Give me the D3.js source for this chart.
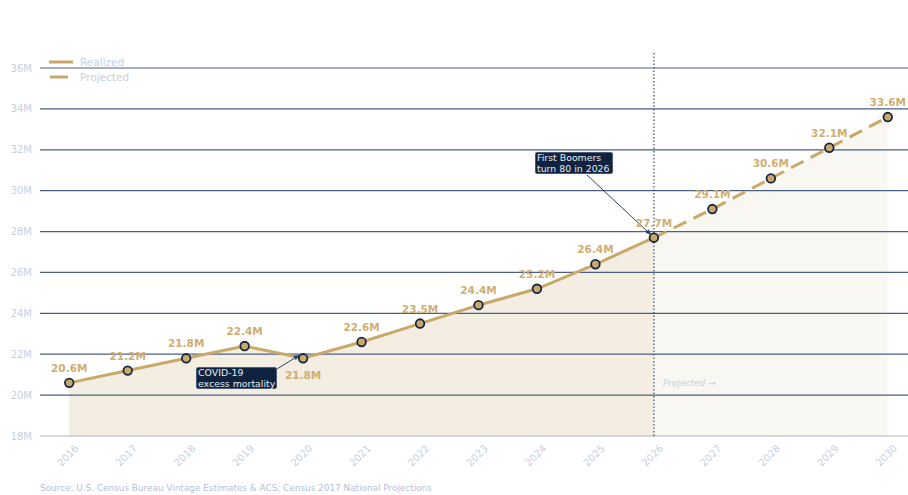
<!DOCTYPE html>
<html>
<head>
<meta charset="utf-8">
<script src="https://cdn.jsdelivr.net/npm/d3@7"></script>
<style>
  body { margin: 0; background: #fff; }
  text { font-family: "DejaVu Sans", sans-serif; }
</style>
</head>
<body>
<div id="chart"></div>
<script>
// Data
const years = [2016, 2017, 2018, 2019, 2020, 2021, 2022, 2023, 2024, 2025, 2026, 2027, 2028, 2029, 2030];
const population = [20.6, 21.2, 21.8, 22.4, 21.8, 22.6, 23.5, 24.4, 25.2, 26.4, 27.7, 29.1, 30.6, 32.1, 33.6];
const yTicks = [18, 20, 22, 24, 26, 28, 30, 32, 34, 36];
const splitYear = 2026;
const sourceText = "Source: U.S. Census Bureau Vintage Estimates & ACS; Census 2017 National Projections";

const width = 908, height = 495;
const margin = {top: 53, right: 0, bottom: 59, left: 40};

const gold = "#c9a96a";
const navy = "#0f2340";
const grid = "#4a5f85";
const muted = "#c5d1e2";

const svg = d3.select("#chart").append("svg")
    .attr("width", width)
    .attr("height", height);

const x = d3.scalePoint()
    .domain(years)
    .range([margin.left, 917])
    .padding(0.5);

const y = d3.scaleLinear()
    .domain([18, 36])
    .range([height - margin.bottom, 68]);

const data = years.map((yr, i) => ({year: yr, value: population[i]}));
const realized = data.filter(d => d.year <= splitYear);
const projected = data.filter(d => d.year >= splitYear);

// Areas
const area = d3.area()
    .x(d => x(d.year))
    .y0(y(18))
    .y1(d => y(d.value));

svg.append("path").datum(realized).attr("d", area).attr("fill", "#f4ede1");
svg.append("path").datum(projected).attr("d", area).attr("fill", "#f9f7f1");

// Gridlines
svg.append("g")
    .selectAll("line")
    .data(yTicks)
    .join("line")
    .attr("x1", margin.left)
    .attr("x2", width)
    .attr("y1", d => y(d))
    .attr("y2", d => y(d))
    .attr("stroke", d => d === 18 ? "#a9b6cc" : grid)
    .attr("stroke-width", 1.2);

// Y axis labels
svg.append("g")
    .selectAll("text")
    .data(yTicks)
    .join("text")
    .attr("x", 32)
    .attr("y", d => y(d))
    .attr("dy", "0.35em")
    .attr("text-anchor", "end")
    .attr("font-size", 10)
    .attr("fill", muted)
    .text(d => d + "M");

// X axis labels (rotated)
svg.append("g")
    .selectAll("text")
    .data(years)
    .join("text")
    .attr("transform", d => `translate(${x(d) + 10},${y(18) + 13}) rotate(-45)`)
    .attr("text-anchor", "end")
    .attr("font-size", 10)
    .attr("fill", muted)
    .text(d => d);

// Split line
svg.append("line")
    .attr("x1", x(splitYear)).attr("x2", x(splitYear))
    .attr("y1", margin.top).attr("y2", y(18))
    .attr("stroke", "#3a4d72")
    .attr("stroke-width", 1.2)
    .attr("stroke-dasharray", "1.5,2");

svg.append("text")
    .attr("x", x(splitYear) + 9)
    .attr("y", y(20) - 9)
    .attr("font-size", 9)
    .attr("font-style", "italic")
    .attr("fill", muted)
    .text("Projected →");

// Lines
const line = d3.line().x(d => x(d.year)).y(d => y(d.value));

svg.append("path").datum(realized)
    .attr("d", line)
    .attr("fill", "none")
    .attr("stroke", gold)
    .attr("stroke-width", 3);

svg.append("path").datum(projected)
    .attr("d", line)
    .attr("fill", "none")
    .attr("stroke", gold)
    .attr("stroke-width", 3)
    .attr("stroke-dasharray", "14,8");

// Annotations
function annotate(lines, bx, by, bw, bh, target) {
    const g = svg.append("g");
    g.append("line")
        .attr("x1", target.x1).attr("y1", target.y1)
        .attr("x2", target.x2).attr("y2", target.y2)
        .attr("stroke", "#2c416a")
        .attr("stroke-width", 1)
        .attr("marker-end", "url(#arrow)");
    g.append("rect")
        .attr("x", bx).attr("y", by)
        .attr("width", bw).attr("height", bh)
        .attr("rx", 2)
        .attr("fill", navy)
        .attr("stroke", "#e8e8e8")
        .attr("stroke-width", 0.6);
    g.selectAll("text")
        .data(lines)
        .join("text")
        .attr("x", bx + 2)
        .attr("y", (d, i) => by + 9 + i * 10.5)
        .attr("font-size", 9.4)
        .attr("fill", "#e6ebf2")
        .text(d => d);
}

svg.append("defs").append("marker")
    .attr("id", "arrow")
    .attr("viewBox", "0 0 10 10")
    .attr("refX", 9).attr("refY", 5)
    .attr("markerWidth", 6).attr("markerHeight", 6)
    .attr("orient", "auto")
    .append("path")
    .attr("d", "M0,1 L10,5 L0,9 Z")
    .attr("fill", "#2c416a");

annotate(["COVID-19", "excess mortality"], 196, 367, 81, 22,
    {x1: 277, y1: 369, x2: x(2020) - 4, y2: y(21.8) - 3});
annotate(["First Boomers", "turn 80 in 2026"], 535, 152, 78, 22,
    {x1: 587, y1: 175, x2: x(2026) - 3, y2: y(27.7) - 3});

// Points
svg.append("g")
    .selectAll("circle")
    .data(data)
    .join("circle")
    .attr("cx", d => x(d.year))
    .attr("cy", d => y(d.value))
    .attr("r", 4.3)
    .attr("fill", gold)
    .attr("stroke", "#17263f")
    .attr("stroke-width", 1.8);

// Value labels
svg.append("g")
    .selectAll("text")
    .data(data)
    .join("text")
    .attr("x", d => x(d.year))
    .attr("y", d => d.year === 2020 ? y(d.value) + 21 : y(d.value) - 11)
    .attr("text-anchor", "middle")
    .attr("font-size", 10.5)
    .attr("font-weight", "bold")
    .attr("fill", "#cfae72")
    .text(d => d.value.toFixed(1) + "M");

// Legend
const legend = svg.append("g");
legend.append("line")
    .attr("x1", 49).attr("x2", 73).attr("y1", 62).attr("y2", 62)
    .attr("stroke", gold).attr("stroke-width", 3);
legend.append("line")
    .attr("x1", 50).attr("x2", 68).attr("y1", 77).attr("y2", 77)
    .attr("stroke", gold).attr("stroke-width", 3)
    .attr("stroke-dasharray", "18,6");
legend.append("text")
    .attr("x", 80).attr("y", 62).attr("dy", "0.35em")
    .attr("font-size", 10.5).attr("fill", muted).text("Realized");
legend.append("text")
    .attr("x", 80).attr("y", 77).attr("dy", "0.35em")
    .attr("font-size", 10.5).attr("fill", muted).text("Projected");

// Source
svg.append("text")
    .attr("x", 40).attr("y", 491)
    .attr("font-size", 8.9)
    .attr("fill", "#b5c1d6")
    .text(sourceText);
</script>
</body>
</html>
